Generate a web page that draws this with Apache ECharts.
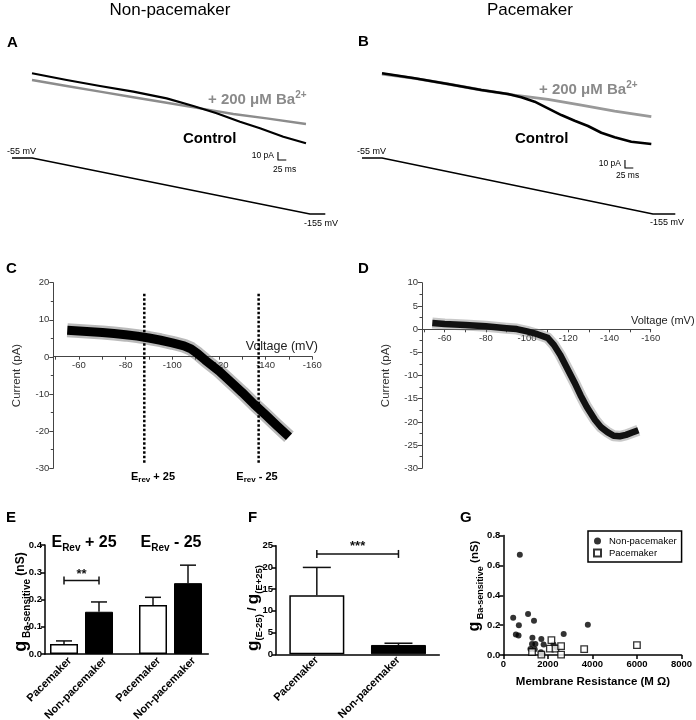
<!DOCTYPE html>
<html><head><meta charset="utf-8">
<script src="https://cdn.jsdelivr.net/npm/echarts@6/dist/echarts.min.js"></script>
<style>html,body{margin:0;padding:0;background:#fff}#c{width:696px;height:720px}</style>
</head><body><div id="c"></div>
<script>
const FONT = '"Liberation Sans", Arial, Helvetica, sans-serif';

// ---------- Panels A / B : current traces (time ms, current pA) ----------
const aControl = [[0,-16.6],[104,-25],[204,-32.5],[304,-39.6],[404,-47.9],[484,-57.5],[554,-66.6],[624,-77.1],[684,-85.4],[754,-95.9],[822,-104.1]];
const aBarium  = [[0,-25],[104,-32.5],[204,-39.6],[304,-46.6],[404,-53.4],[504,-60.4],[604,-67.5],[704,-72.9],[822,-80]];
const bControl = [[0,-16.6],[98,-22.9],[198,-30],[298,-37.5],[378,-42.5],[418,-46.6],[458,-52.1],[498,-60.4],[538,-68.8],[578,-75.9],[618,-82.5],[658,-90.9],[698,-96.6],[748,-102.1],[808,-105]];
const bBarium  = [[0,-17.5],[98,-22.9],[198,-30],[298,-37.5],[398,-43.8],[498,-49.1],[598,-56.3],[698,-63.8],[808,-70.9]];
// voltage ramp protocol (time ms, mV)
const rampA = [[-60,-55],[0,-55],[834,-155],[880,-155]];
const rampB = [[-60,-55],[0,-55],[813,-155],[880,-155]];
// scale bars: 10 pA / 25 ms
const scaleBarA = [[738,-115],[738,-125],[763,-125]];
const scaleBarB = [[729,-125],[729,-135],[754,-135]];

// ---------- Panels C / D : I-V curves ----------
const ivVoltageC = [-55,-60,-65,-70,-75,-80,-85,-90,-95,-100,-105,-108,-111,-114,-117,-120,-125,-130,-135,-140,-145,-150];
const ivCurrentC = [7.2,7.0,6.8,6.6,6.3,6.0,5.6,5.1,4.5,3.8,3.0,2.2,0.8,-0.8,-2.3,-3.8,-6.7,-9.6,-12.7,-15.6,-18.6,-21.5];
const ivVoltageD = [-54,-60,-70,-80,-90,-95,-100,-105,-110,-113,-116,-120,-123,-126,-129,-133,-136,-139,-142,-145,-148,-151,-154];
const ivCurrentD = [1.3,1.1,0.9,0.6,0.2,0,-0.5,-1.1,-1.9,-3.4,-5.5,-8.9,-11.5,-14.3,-16.8,-19.6,-21.2,-22.2,-23.0,-23.1,-22.8,-22.3,-21.8];
const eRevMarkers = [-88, -137];     // E_rev + 25, E_rev - 25 (mV)
const eRevMarkerSpan = [17, -29];    // vertical extent (pA)
const xTicksIV = [-60,-80,-100,-120,-140,-160];

// ---------- Panel E ----------
const eGroups = ['E_Rev + 25', 'E_Rev - 25'];
const ePacemakerMean = [0.037, 0.180];
const ePacemakerSem  = [0.011, 0.028];
const eNonPacemakerMean = [0.155, 0.260];
const eNonPacemakerSem  = [0.036, 0.066];
const eSignificanceLevel = 0.27;

// ---------- Panel F ----------
const fCategories = ['Pacemaker', 'Non-pacemaker'];
const fMean = [13.6, 2.15];
const fSem  = [6.4, 0.4];
const fSignificanceLevel = 23.1;

// ---------- Panel G ----------
const gNonPacemaker = [[742,0.671],[444,0.249],[1111,0.275],[1378,0.229],[698,0.200],[564,0.138],[684,0.131],[1307,0.116],[1707,0.107],[3795,0.202],[2711,0.140],[1289,0.073],[1440,0.073],[1809,0.071],[1218,0.040],[1409,0.038],[1689,0.018],[1751,0.007],[2253,0.071],[2400,0.051]];
const gPacemaker = [[2160,0.100],[2090,0.043],[2342,0.043],[2595,0.060],[2595,0.002],[1290,0.020],[1707,0.003],[3631,0.039],[6000,0.066]];

const chart = echarts.init(document.getElementById('c'), null, {renderer:'canvas', width:696, height:720});

const axisCol = '#444';
const hiddenX = (gi, min, max) => ({gridIndex:gi, type:'value', min, max, show:false});
const hiddenY = (gi, min, max) => ({gridIndex:gi, type:'value', min, max, show:false});

// x axis of I-V plots sits on the zero-current line (offset from grid bottom)
const ivX = (gi, offset) => ({gridIndex:gi, type:'value', min:-160, max:-49, interval:10, inverse:true, position:'bottom', offset,
  axisLine:{show:true, onZero:false, lineStyle:{color:axisCol, width:1}},
  axisTick:{show:true, length:3, lineStyle:{color:axisCol}},
  axisLabel:{formatter: v => xTicksIV.includes(v) ? String(v) : '', color:'#333', fontSize:9.5, fontFamily:FONT, margin:4},
  splitLine:{show:false}});
const ivY = (gi, min, max, interval, gap) => ({gridIndex:gi, type:'value', min, max, interval,
  name:'Current (pA)', nameLocation:'middle', nameGap:gap, nameTextStyle:{color:'#333', fontSize:11.5, fontFamily:FONT},
  axisLine:{show:true, onZero:false, lineStyle:{color:axisCol, width:1}},
  axisTick:{show:true, length:4, lineStyle:{color:axisCol}},
  minorTick:{show:true, splitNumber:2, length:2.5, lineStyle:{color:axisCol}},
  axisLabel:{color:'#333', fontSize:9.5, fontFamily:FONT, margin:4},
  splitLine:{show:false}, minorSplitLine:{show:false}});

const boldAxisStyle = {lineStyle:{color:'#000', width:1.5}};
const grids = [
  {left:12, top:60, width:313.3, height:112},
  {left:12, top:155.2, width:313.3, height:61.6},
  {left:362, top:60, width:313.3, height:112},
  {left:362, top:155.2, width:313.3, height:61.6},
  {left:53.3, top:282.7, width:259, height:185.6},
  {left:422, top:282.7, width:228.7, height:185.6},
  {left:45, top:545, width:163.3, height:109},
  {left:37, top:545, width:178, height:109},
  {left:276, top:545.7, width:163.3, height:108.6},
  {left:503.3, top:535.5, width:178.2, height:119.5}
].map(g => Object.assign({outerBoundsMode:'none', containLabel:false}, g));

const xAxes = [
  hiddenX(0,-60,880), hiddenX(1,-60,880), hiddenX(2,-60,880), hiddenX(3,-60,880),
  ivX(4, -111.6), ivX(5, -139),
  {gridIndex:6, type:'value', min:0, max:1, axisLine:Object.assign({show:true}, boldAxisStyle), axisTick:{show:false}, axisLabel:{show:false}, splitLine:{show:false}},
  {gridIndex:7, type:'category', data:eGroups, show:false},
  {gridIndex:8, type:'category', data:fCategories, axisLine:Object.assign({show:true}, boldAxisStyle), axisTick:{show:false},
    axisLabel:{interval:0, rotate:45, margin:4, color:'#000', fontSize:11, fontWeight:'bold', fontFamily:FONT}},
  {gridIndex:9, type:'value', min:0, max:8000, interval:2000, axisLine:Object.assign({show:true}, boldAxisStyle),
    axisTick:{show:true, length:4, lineStyle:{color:'#000', width:1.5}}, splitLine:{show:false},
    axisLabel:{color:'#000', fontSize:9.5, fontWeight:'bold', fontFamily:FONT, margin:4, formatter: v => String(v)}}
];
const boldY = (gi, min, max, interval, fmt) => ({gridIndex:gi, type:'value', min, max, interval,
  axisLine:Object.assign({show:true, onZero:false}, boldAxisStyle),
  axisTick:{show:true, length:4, lineStyle:{color:'#000', width:1.5}}, splitLine:{show:false},
  axisLabel:{color:'#000', fontSize:9.5, fontWeight:'bold', fontFamily:FONT, margin:3, formatter: fmt}});
const yAxes = [
  hiddenY(0,-140,0), hiddenY(1,-160,-50), hiddenY(2,-140,0), hiddenY(3,-160,-50),
  ivY(4,-30,20,10,30), ivY(5,-30,10,5,30),
  boldY(6,0,0.4,0.1, v => v.toFixed(1)),
  hiddenY(7,0,0.4),
  boldY(8,0,25,5, v => String(v)),
  boldY(9,0,0.8,0.2, v => v.toFixed(1))
];

const line = (gi, data, color, width, extra) => Object.assign({type:'line', xAxisIndex:gi, yAxisIndex:gi, data, symbol:'none', silent:true, clip:false,
  lineStyle:{color, width, join:'round'}}, extra || {});

function errorBars(gi, means, sems, offsetPx, capW, labels) {
  return {type:'custom', xAxisIndex:gi, yAxisIndex:gi, silent:true, z:3,
    data: means.map((m, i) => [i, m, m + sems[i]]),
    renderItem: (params, api) => {
      const base = api.coord([api.value(0), api.value(1)]);
      const top = api.coord([api.value(0), api.value(2)]);
      const zero = api.coord([api.value(0), 0]);
      const x = base[0] + offsetPx;
      const st = {stroke:'#111', lineWidth:1.5};
      const kids = [
        {type:'line', shape:{x1:x, y1:base[1], x2:x, y2:top[1]}, style:st},
        {type:'line', shape:{x1:x - capW/2, y1:top[1], x2:x + capW/2, y2:top[1]}, style:st}
      ];
      if (labels) kids.push({type:'text', x:x + 6, y:zero[1] + 5, rotation:Math.PI/4,
        style:{text:labels, align:'right', verticalAlign:'middle', fill:'#000', fontSize:11, fontWeight:'bold', fontFamily:FONT}});
      return {type:'group', children:kids};
    }};
}
function bracket(gi, fromCat, toCat, offA, offB, level, label, textDy) {
  return {type:'custom', xAxisIndex:gi, yAxisIndex:gi, silent:true, z:3,
    data:[[fromCat, toCat, level]],
    renderItem: (params, api) => {
      const a = api.coord([api.value(0), api.value(2)]);
      const b = api.coord([api.value(1), api.value(2)]);
      const x1 = a[0] + offA, x2 = b[0] + offB, y = a[1];
      const st = {stroke:'#111', lineWidth:1.5};
      return {type:'group', children:[
        {type:'line', shape:{x1, y1:y, x2, y2:y}, style:st},
        {type:'line', shape:{x1, y1:y-4, x2:x1, y2:y+4}, style:st},
        {type:'line', shape:{x1:x2, y1:y-4, x2, y2:y+4}, style:st},
        {type:'text', x:(x1+x2)/2, y:y - textDy, style:{text:label, align:'center', verticalAlign:'middle', fill:'#111', fontSize:13, fontWeight:'bold', fontFamily:FONT}}
      ]};
    }};
}

const series = [
  // A
  line(0, aBarium, '#8c8c8c', 2.4),
  line(0, aControl, '#000', 2.2),
  line(0, scaleBarA, '#000', 1.1),
  line(1, rampA, '#000', 1.3),
  // B
  line(2, bBarium, '#999', 2.8),
  line(2, bControl, '#000', 2.6),
  line(2, scaleBarB, '#000', 1.1),
  line(3, rampB, '#000', 1.3),
  // C
  line(4, ivVoltageC.map((v,i)=>[v, ivCurrentC[i]]), '#666', 14, {lineStyle:{color:'#666', width:14, opacity:0.45, join:'round'}}),
  line(4, ivVoltageC.map((v,i)=>[v, ivCurrentC[i]]), '#000', 9),
  ...eRevMarkers.map(v => line(4, eRevMarkerSpan.map(c => [v, c]), '#000', 2.5, {lineStyle:{color:'#000', width:2.5, type:[2.5,2]}, z:4})),
  // D
  line(5, ivVoltageD.map((v,i)=>[v, ivCurrentD[i]]), '#777', 11, {lineStyle:{color:'#777', width:11, opacity:0.4, join:'round'}}),
  line(5, ivVoltageD.map((v,i)=>[v, ivCurrentD[i]]), '#111', 6.5),
  // E
  {type:'bar', name:'E Pacemaker', xAxisIndex:7, yAxisIndex:7, data:ePacemakerMean, barWidth:28, barGap:'25%', silent:true,
    itemStyle:{color:'#fff', borderColor:'#000', borderWidth:1.5}},
  {type:'bar', name:'E Non-pacemaker', xAxisIndex:7, yAxisIndex:7, data:eNonPacemakerMean, barWidth:28, barGap:'25%', silent:true,
    itemStyle:{color:'#000', borderColor:'#000', borderWidth:1}},
  errorBars(7, ePacemakerMean, ePacemakerSem, -17.5, 16, 'Pacemaker'),
  errorBars(7, eNonPacemakerMean, eNonPacemakerSem, 17.5, 16, 'Non-pacemaker'),
  bracket(7, 0, 0, -17.5, 17.5, eSignificanceLevel, '**', 6),
  // F
  {type:'bar', name:'F ratio', xAxisIndex:8, yAxisIndex:8, barWidth:55, silent:true,
    data: fMean.map((m, i) => ({value:m, itemStyle: i === 0 ? {color:'#fff', borderColor:'#000', borderWidth:1.5} : {color:'#000', borderColor:'#000', borderWidth:1}}))},
  errorBars(8, fMean, fSem, 0, 28, null),
  bracket(8, 0, 1, 0, 0, fSignificanceLevel, '***', 8),
  // G
  {type:'scatter', name:'Non-pacemaker', xAxisIndex:9, yAxisIndex:9, data:gNonPacemaker, symbol:'circle', symbolSize:6, silent:true,
    itemStyle:{color:'#000'}},
  {type:'scatter', name:'Pacemaker', xAxisIndex:9, yAxisIndex:9, data:gPacemaker, symbol:'rect', symbolSize:6.5, silent:true,
    itemStyle:{color:'#fff', borderColor:'#000', borderWidth:1.3}}
];

const T = (x, y, text, o) => ({type:'text', x, y, silent:true,
  style:Object.assign({text, fill:'#000', fontFamily:FONT, fontSize:12, align:'left', verticalAlign:'middle'}, o || {})});
const boldB = {fontFamily:FONT, fontWeight:'bold'};
const rich = (o) => Object.assign({}, boldB, o);

const graphics = [
  T(170, 10, 'Non-pacemaker', {fontSize:17, align:'center'}),
  T(530, 10, 'Pacemaker', {fontSize:17, align:'center'}),
  T(7, 43, 'A', {fontSize:15, fontWeight:'bold'}),
  T(358, 42, 'B', {fontSize:15, fontWeight:'bold'}),
  T(6, 269, 'C', {fontSize:15, fontWeight:'bold'}),
  T(358, 269, 'D', {fontSize:15, fontWeight:'bold'}),
  T(6, 518, 'E', {fontSize:15, fontWeight:'bold'}),
  T(248, 518, 'F', {fontSize:15, fontWeight:'bold'}),
  T(460, 518, 'G', {fontSize:15, fontWeight:'bold'}),
  // A annotations
  T(208, 100, '{t|+ 200 μM Ba}{p|2+}', {rich:{t:rich({fontSize:15, fill:'#8a8a8a', lineHeight:20}), p:rich({fontSize:10, fill:'#8a8a8a', verticalAlign:'top', lineHeight:10})}}),
  T(183, 139, 'Control', {fontSize:15, fontWeight:'bold'}),
  T(7, 152, '-55 mV', {fontSize:9}),
  T(304, 224, '-155 mV', {fontSize:9}),
  T(274, 156, '10 pA', {fontSize:8.5, align:'right'}),
  T(273, 170, '25 ms', {fontSize:8.5}),
  // B annotations
  T(539, 90, '{t|+ 200 μM Ba}{p|2+}', {rich:{t:rich({fontSize:15, fill:'#8a8a8a', lineHeight:20}), p:rich({fontSize:10, fill:'#8a8a8a', verticalAlign:'top', lineHeight:10})}}),
  T(515, 139, 'Control', {fontSize:15, fontWeight:'bold'}),
  T(357, 152, '-55 mV', {fontSize:9}),
  T(650, 223, '-155 mV', {fontSize:9}),
  T(621, 164, '10 pA', {fontSize:8.5, align:'right'}),
  T(616, 176, '25 ms', {fontSize:8.5}),
  // C / D
  T(318, 347, 'Voltage (mV)', {fontSize:12.5, fill:'#222', align:'right'}),
  T(631, 321, 'Voltage (mV)', {fontSize:11, fill:'#222'}),
  T(153, 477, '{E|E}{s|rev}{t| + 25}', {align:'center', rich:{E:rich({fontSize:11, lineHeight:14}), s:rich({fontSize:8, verticalAlign:'bottom', lineHeight:8}), t:rich({fontSize:11, lineHeight:14})}}),
  T(257, 477, '{E|E}{s|rev}{t| - 25}', {align:'center', rich:{E:rich({fontSize:11, lineHeight:14}), s:rich({fontSize:8, verticalAlign:'bottom', lineHeight:8}), t:rich({fontSize:11, lineHeight:14})}}),
  // E titles
  T(84, 543, '{E|E}{s|Rev}{t| + 25}', {align:'center', rich:{E:rich({fontSize:16, lineHeight:20}), s:rich({fontSize:10, verticalAlign:'bottom', lineHeight:10}), t:rich({fontSize:16, lineHeight:20})}}),
  T(171, 543, '{E|E}{s|Rev}{t| - 25}', {align:'center', rich:{E:rich({fontSize:16, lineHeight:20}), s:rich({fontSize:10, verticalAlign:'bottom', lineHeight:10}), t:rich({fontSize:16, lineHeight:20})}}),
  Object.assign(T(21, 602, '{g|g}{s| Ba-sensitive}{n| (nS)}', {align:'center', rich:{g:rich({fontSize:18, lineHeight:22}), s:rich({fontSize:10, verticalAlign:'bottom', lineHeight:10}), n:rich({fontSize:12, lineHeight:22})}}), {rotation:Math.PI/2}),
  // F title
  Object.assign(T(253, 608, '{g|g}{s|(E-25)}{n| / }{g|g}{s|(E+25)}', {align:'center', rich:{g:rich({fontSize:17, lineHeight:22}), s:rich({fontSize:9.5, verticalAlign:'bottom', lineHeight:10}), n:rich({fontSize:12, lineHeight:22})}}), {rotation:Math.PI/2}),
  // G titles
  Object.assign(T(475, 586, '{g|g}{s| Ba-sensitive}{n| (nS)}', {align:'center', rich:{g:rich({fontSize:16, lineHeight:20}), s:rich({fontSize:9, verticalAlign:'bottom', lineHeight:9}), n:rich({fontSize:11.5, lineHeight:20})}}), {rotation:Math.PI/2}),
  T(593, 682, 'Membrane Resistance (M Ω)', {align:'center', fontSize:11.5, fontWeight:'bold'})
];

chart.setOption({
  animation:false,
  backgroundColor:'#fff',
  textStyle:{fontFamily:FONT},
  grid:grids, xAxis:xAxes, yAxis:yAxes, series,
  legend:{data:['Non-pacemaker','Pacemaker'], left:588, top:531, orient:'vertical', selectedMode:false,
    itemWidth:7, itemHeight:7, itemGap:2, padding:[5,5,4,5], borderColor:'#000', borderWidth:1.5,
    textStyle:{fontSize:9.5, color:'#000', fontFamily:FONT, padding:[0,0,0,3]}},
  graphic:graphics
});
</script></body></html>
